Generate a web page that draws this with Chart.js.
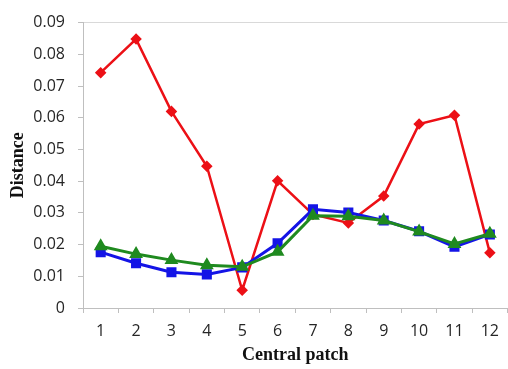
<!DOCTYPE html>
<html>
<head>
<meta charset="utf-8">
<script src="https://cdn.jsdelivr.net/npm/chart.js@4"></script>
<style>
  html, body { margin: 0; padding: 0; background: #fff; }
  canvas { display: block; }
</style>
</head>
<body>
<canvas id="chart_distance" width="508" height="369"></canvas>
<script>
// patches along the x axis
let patches = ['1', '2', '3', '4', '5', '6', '7', '8', '9', '10', '11', '12'];

// distance per central patch
let distRed = [0.0742, 0.0848, 0.0620, 0.0447, 0.0056, 0.0401, 0.0295, 0.0268, 0.0353, 0.0580, 0.0608, 0.0174];
let distBlue = [0.0176, 0.0141, 0.0113, 0.0106, 0.0128, 0.0204, 0.0311, 0.0301, 0.0276, 0.0242, 0.0193, 0.0232];
let distGreen = [0.0195, 0.0170, 0.0151, 0.0135, 0.0130, 0.0177, 0.0291, 0.0289, 0.0276, 0.0241, 0.0202, 0.0234];

let yTicks = [0, 0.01, 0.02, 0.03, 0.04, 0.05, 0.06, 0.07, 0.08, 0.09];

let axisGray = '#bfbfbf';
let tickFont = { family: 'Open Sans', size: 16 };
let titleFont = { family: 'Liberation Serif', size: 18, weight: 'bold' };

let ctx = document.getElementById('chart_distance');
let data = {
	labels: patches,
	datasets: [
		{
			data: distGreen,
			borderColor: '#1f8a1f',
			backgroundColor: '#1f8a1f',
			borderWidth: 3,
			pointStyle: 'triangle',
			pointRadius: 5,
			tension: 0
		},
		{
			data: distBlue,
			borderColor: '#1414e6',
			backgroundColor: '#1414e6',
			borderWidth: 3,
			pointStyle: 'rect',
			pointRadius: 5,
			tension: 0
		},
		{
			data: distRed,
			borderColor: '#ec1016',
			backgroundColor: '#ec1016',
			borderWidth: 2.5,
			pointStyle: 'rectRot',
			pointRadius: 4,
			tension: 0
		}
	]
};

let options = {
	responsive: false,
	animation: false,
	devicePixelRatio: 1,
	// the plot runs right up to the canvas edge
	layout: { autoPadding: false, padding: { top: 20, right: 0, bottom: 0, left: 0 } },
	plugins: {
		legend: { display: false },
		tooltip: { enabled: false }
	},
	scales: {
		x: {
			offset: true,
			grid: {
				offset: true,
				drawOnChartArea: true,
				color: c => c.index === patches.length ? '#e0e0e0' : 'transparent',
				tickColor: axisGray,
				tickLength: 5
			},
			border: { color: axisGray, width: 1 },
			ticks: { font: tickFont, color: '#262626', padding: 9, maxRotation: 0 },
			title: {
				display: true,
				text: 'Central patch',
				font: titleFont,
				color: '#111',
				padding: { top: 0, bottom: 3 }
			},
			afterFit: s => { s.height = 61; }
		},
		y: {
			min: 0,
			max: 0.09,
			afterBuildTicks: s => { s.ticks = yTicks.map(v => ({ value: v })); },
			grid: {
				color: c => c.index === yTicks.length - 1 ? '#d9d9d9' : 'transparent',
				tickColor: axisGray,
				tickLength: 5
			},
			border: { color: axisGray, width: 1 },
			ticks: {
				font: tickFont,
				color: '#262626',
				padding: 13,
				callback: v => v === 0 ? '0' : v.toFixed(2)
			},
			title: {
				display: true,
				text: 'Distance',
				font: titleFont,
				color: '#111',
				padding: { top: 8, bottom: 0 }
			},
			afterFit: s => { s.width = 83; }
		}
	}
};

new Chart(ctx, {
	type: 'line',
	data: data,
	options: options
});
</script>
</body>
</html>
